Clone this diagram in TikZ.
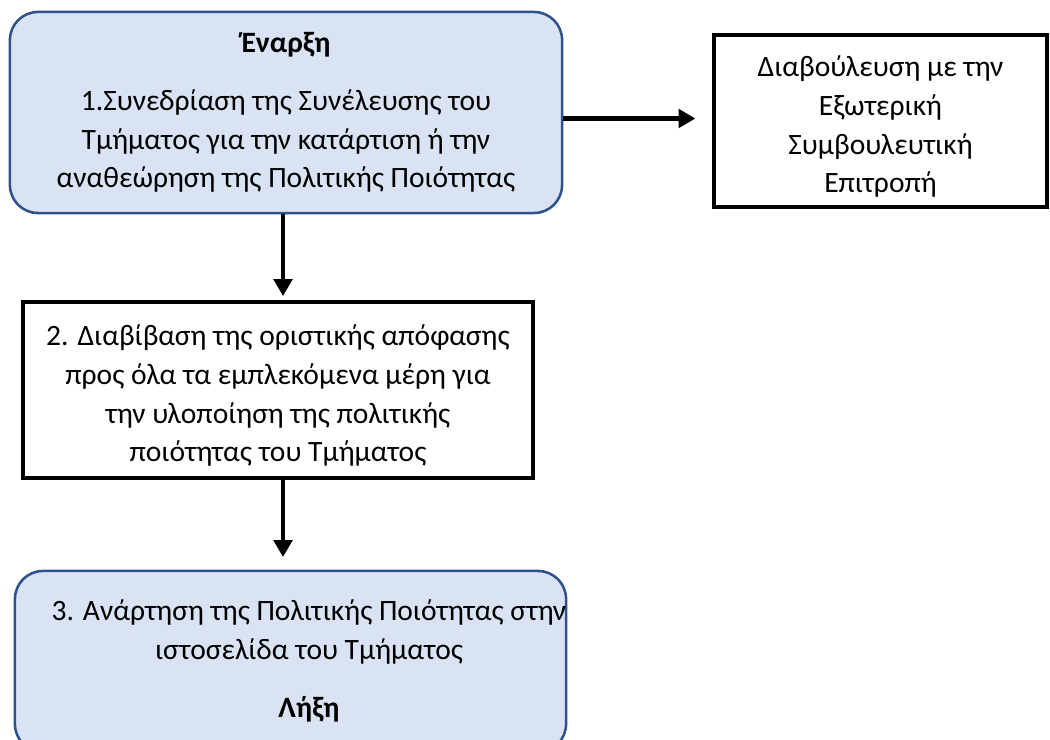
\documentclass[tikz,border=0pt]{standalone}
\usepackage{fontspec}
\setmainfont{Carlito}
\usetikzlibrary{arrows.meta}

\definecolor{boxfill}{HTML}{DAE3F3}
\definecolor{boxline}{HTML}{2F528F}
\newcommand{\lowertext}{\rule{0pt}{23pt}}

\begin{document}
\begin{tikzpicture}[x=0.025cm,y=-0.025cm,
    every node/.style={font=\fontsize{21}{27.4}\selectfont,align=center,inner sep=0pt},
    roundbox/.style={draw=boxline,fill=boxfill,line width=1.8pt,rounded corners=0.7cm},
    plainbox/.style={draw=black,line width=2.4pt},
    flow/.style={line width=3.5pt,-{Triangle[length=12pt,width=13pt]}}]
  \useasboundingbox (0,0) rectangle (1050,740);
  \clip (0,0) rectangle (1050,740);

  \node[roundbox,minimum width=13.8cm,minimum height=5.025cm] (start) at (286,112.5)
    {\textbf{Έναρξη}\\[13.9pt]
     1.Συνεδρίαση της Συνέλευσης του\\
     Τμήματος για την κατάρτιση ή την\\
     αναθεώρηση της Πολιτικής Ποιότητας};

  \node[plainbox,minimum width=8.325cm,minimum height=4.3cm] (consult) at (880.5,121)
    {\lowertext Διαβούλευση με την\\
     Εξωτερική\\
     Συμβουλευτική\\
     Επιτροπή};

  \node[plainbox,minimum width=12.75cm,minimum height=4.4cm] (transmit) at (278,390)
    {\lowertext 2. Διαβίβαση της οριστικής απόφασης\\
     προς όλα τα εμπλεκόμενα μέρη για\\
     την υλοποίηση της πολιτικής\\
     ποιότητας του Τμήματος};

  \node[roundbox,minimum width=13.775cm,minimum height=4.525cm] (post) at (290.5,661.5) {};
  \node (post text) at (309,661)
    {3. Ανάρτηση της Πολιτικής Ποιότητας στην\\
     ιστοσελίδα του Τμήματος\\[13.9pt]
     \textbf{Λήξη}};

  \draw[flow,shorten >=12pt] ([yshift=-0.15cm]start.east) -- ([yshift=-0.15cm]start.east -| consult.west);
  \draw[flow,shorten >=3pt] ([xshift=-0.075cm]start.south) -- ([xshift=-0.075cm]start.south |- transmit.north);
  \draw[flow,shorten >=9pt] ([xshift=0.125cm]transmit.south) -- ([xshift=0.125cm]transmit.south |- post.north);
\end{tikzpicture}
\end{document}
